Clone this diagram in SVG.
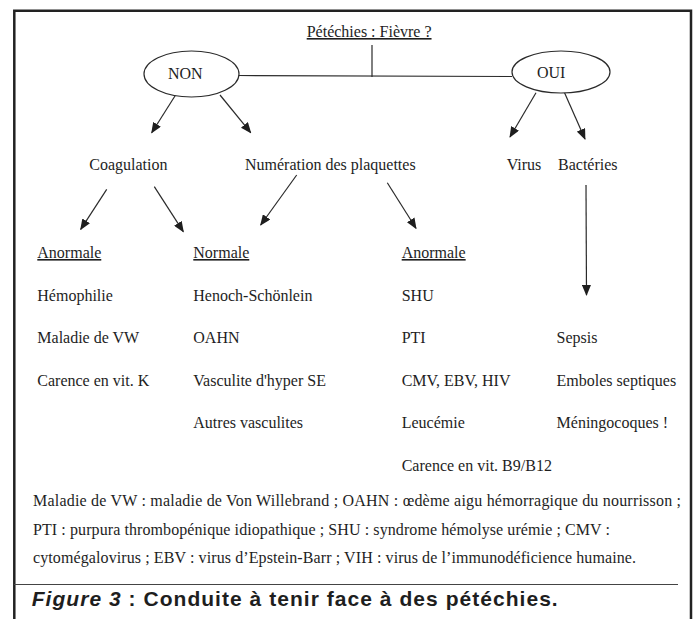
<svg xmlns="http://www.w3.org/2000/svg" width="694" height="619" viewBox="0 0 694 619">
<style>
.t{font-family:"Liberation Serif","Times New Roman",serif;font-size:16px;fill:#1e1e1e}
.u{text-decoration:underline}
.f{font-family:"Liberation Serif","Times New Roman",serif;font-size:16px;fill:#1e1e1e}
.cap{font-family:"Liberation Sans",Arial,sans-serif;font-size:21px;font-weight:bold;fill:#1e1e1e}
.ln{stroke:#2a2a2a;stroke-width:1.2;fill:none}
.ar{stroke:#2a2a2a;stroke-width:1.2;fill:none;marker-end:url(#ah)}
.el{fill:#fff;stroke:#2a2a2a;stroke-width:1.2}
.fr{stroke:#222;stroke-width:2.5;fill:none}
</style>
<defs>
<marker id="ah" markerUnits="userSpaceOnUse" markerWidth="11" markerHeight="9" refX="10" refY="4.5" orient="auto">
<path d="M0,0 L11,4.5 L0,9 z" fill="#1e1e1e"/>
</marker>
</defs>
<rect width="694" height="619" fill="#fff"/>
<g id="frame">
<path class="fr" d="M14.3,619 V10.7 H691 V619"/>
<line x1="14" y1="584.5" x2="678" y2="584.5" stroke="#444" stroke-width="1.2"/>
</g>
<g id="connectors">
<line class="ln" x1="372" y1="45" x2="372" y2="77"/>
<line class="ln" x1="239" y1="75.5" x2="512" y2="76.5"/>
<line class="ar" x1="176.7" y1="93.3" x2="151.7" y2="132.7"/>
<line class="ar" x1="220" y1="95" x2="250.7" y2="132.7"/>
<line class="ar" x1="536" y1="92.7" x2="510" y2="137"/>
<line class="ar" x1="563.3" y1="90" x2="585" y2="139"/>
<line class="ar" x1="106.7" y1="189.3" x2="80.7" y2="229.3"/>
<line class="ar" x1="154.3" y1="186.7" x2="183.3" y2="231.7"/>
<line class="ar" x1="296.7" y1="175" x2="260.7" y2="225"/>
<line class="ar" x1="387.3" y1="182.7" x2="416" y2="228.3"/>
<line class="ar" x1="586" y1="185" x2="586.5" y2="295"/>
</g>
<g id="title"><text class="t u" x="306.7" y="37">Pétéchies : Fièvre ?</text></g>
<g id="non"><ellipse class="el" cx="191.5" cy="74" rx="47.5" ry="23"/><text class="t" x="168" y="79">NON</text></g>
<g id="oui"><ellipse class="el" cx="561" cy="72" rx="49" ry="21"/><text class="t" x="537" y="78">OUI</text></g>
<g id="coagulation"><text class="t" x="89.3" y="170">Coagulation</text></g>
<g id="numeration"><text class="t" x="245" y="170">Numération des plaquettes</text></g>
<g id="virus"><text class="t" x="506.7" y="170">Virus</text></g>
<g id="bacteries"><text class="t" x="558" y="170">Bactéries</text></g>
<g id="col-coag-anormale">
<text class="t u" x="37.3" y="258">Anormale</text>
<text class="t" x="37.3" y="300.5">Hémophilie</text>
<text class="t" x="37.3" y="343">Maladie de VW</text>
<text class="t" x="37.3" y="385.5">Carence en vit. K</text>
</g>
<g id="col-normale">
<text class="t u" x="193.3" y="258">Normale</text>
<text class="t" x="193.3" y="300.5">Henoch-Schönlein</text>
<text class="t" x="193.3" y="343">OAHN</text>
<text class="t" x="193.3" y="385.5">Vasculite d'hyper SE</text>
<text class="t" x="193.3" y="428">Autres vasculites</text>
</g>
<g id="col-plaq-anormale">
<text class="t u" x="401.7" y="258">Anormale</text>
<text class="t" x="401.7" y="300.5">SHU</text>
<text class="t" x="401.7" y="343">PTI</text>
<text class="t" x="401.7" y="385.5">CMV, EBV, HIV</text>
<text class="t" x="401.7" y="428">Leucémie</text>
<text class="t" x="401.7" y="471">Carence en vit. B9/B12</text>
</g>
<g id="col-bacteries">
<text class="t" x="556.6" y="343">Sepsis</text>
<text class="t" x="556.6" y="385.5">Emboles septiques</text>
<text class="t" x="556.6" y="428">Méningocoques !</text>
</g>
<g id="footnotes">
<text class="f" x="33" y="506" textLength="648" lengthAdjust="spacing">Maladie de VW : maladie de Von Willebrand ; OAHN : œdème aigu hémorragique du nourrisson ;</text>
<text class="f" x="33" y="535" textLength="577" lengthAdjust="spacing">PTI : purpura thrombopénique idiopathique ; SHU : syndrome hémolyse urémie ; CMV :</text>
<text class="f" x="33" y="563" textLength="603" lengthAdjust="spacing">cytomégalovirus ; EBV : virus d’Epstein-Barr ; VIH : virus de l’immunodéficience humaine.</text>
</g>
<g id="caption">
<text class="cap" x="31.7" y="606" textLength="526" lengthAdjust="spacing"><tspan font-style="italic">Figure 3</tspan> : Conduite à tenir face à des pétéchies.</text>
</g>
</svg>
